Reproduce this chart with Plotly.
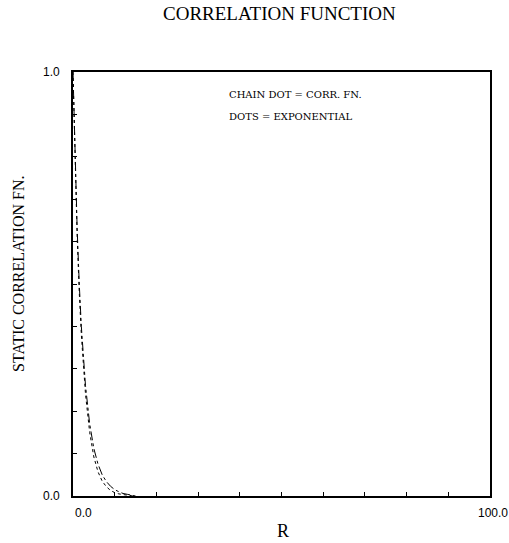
import plotly.graph_objects as go

# Data
r_vals = [0, 0.5, 1, 1.5, 2, 3, 4, 5, 6, 7, 8, 9, 10, 11, 12, 13, 14, 15]
corr_fn = [1.0, 0.79, 0.63, 0.50, 0.40, 0.26, 0.17, 0.112, 0.075, 0.050, 0.034, 0.023, 0.015, 0.010, 0.006, 0.004, 0.002, 0.0]
expo = [1.0, 0.78, 0.61, 0.48, 0.38, 0.24, 0.15, 0.092, 0.057, 0.035, 0.022, 0.013, 0.008, 0.005, 0.003, 0.002, 0.001, 0.0]

x_tick_labels = ["0.0", "100.0"]
y_tick_labels = ["0.0", "1.0"]

serif = "Liberation Serif, DejaVu Serif, serif"
serif_wide = "DejaVu Serif, Liberation Serif, serif"
sans = "Liberation Sans, DejaVu Sans, sans-serif"

W, H = 509, 543
L, R, T, B = 73, 19, 72, 47

fig = go.Figure()
fig.add_trace(go.Scatter(x=r_vals, y=corr_fn, mode="lines",
                         line=dict(color="black", width=1, dash="dashdot"),
                         name="CHAIN DOT = CORR. FN."))
fig.add_trace(go.Scatter(x=r_vals, y=expo, mode="lines",
                         line=dict(color="black", width=1, dash="dot"),
                         name="DOTS = EXPONENTIAL"))

fig.update_layout(
    width=W, height=H,
    margin=dict(l=L, r=R, t=T, b=B),
    paper_bgcolor="white", plot_bgcolor="white",
    showlegend=False,
)
fig.update_xaxes(range=[0, 100], showgrid=False, zeroline=False,
                 showline=True, linecolor="black", linewidth=2, mirror=True,
                 ticks="inside", tickvals=list(range(0, 101, 10)), ticklen=4,
                 tickcolor="black", showticklabels=False)
fig.update_yaxes(range=[0, 1], showgrid=False, zeroline=False,
                 showline=True, linecolor="black", linewidth=2, mirror=True,
                 ticks="inside", tickvals=[i / 10 for i in range(11)], ticklen=4,
                 tickcolor="black", showticklabels=False)

pw, ph = W - L - R, H - T - B


def px(xp):
    return (xp - L) / pw


def py(yp):
    return (H - B - yp) / ph


# titles
fig.add_annotation(x=px(279), y=py(14), xref="paper", yref="paper",
                   text="CORRELATION FUNCTION", showarrow=False,
                   xanchor="center", yanchor="middle",
                   font=dict(family=serif, size=19, color="black"))
fig.add_annotation(x=px(283), y=py(531), xref="paper", yref="paper",
                   text="R", showarrow=False, xanchor="center", yanchor="middle",
                   font=dict(family=serif, size=18, color="black"))
fig.add_annotation(x=px(18), y=py(274), xref="paper", yref="paper",
                   text="STATIC CORRELATION FN.", showarrow=False, textangle=-90,
                   xanchor="center", yanchor="middle",
                   font=dict(family=serif, size=16, color="black"))

# endpoint tick labels
fig.add_annotation(x=0, y=0, xref="x", yref="paper", text=x_tick_labels[0],
                   showarrow=False, xanchor="left", yanchor="top", yshift=-8,
                   font=dict(family=sans, size=12, color="black"))
fig.add_annotation(x=100, y=0, xref="x", yref="paper", text=x_tick_labels[1],
                   showarrow=False, xanchor="center", yanchor="top", yshift=-8, xshift=3,
                   font=dict(family=sans, size=12, color="black"))
fig.add_annotation(x=0, y=0, xref="paper", yref="y", text=y_tick_labels[0],
                   showarrow=False, xanchor="right", yanchor="middle", xshift=-11,
                   font=dict(family=sans, size=12, color="black"))
fig.add_annotation(x=0, y=1, xref="paper", yref="y", text=y_tick_labels[1],
                   showarrow=False, xanchor="right", yanchor="middle", xshift=-11,
                   font=dict(family=sans, size=12, color="black"))

# in-plot key text
fig.add_annotation(x=37, y=0.948, xref="x", yref="y", text="CHAIN DOT = CORR. FN.",
                   showarrow=False, xanchor="left", yanchor="middle",
                   font=dict(family=serif_wide, size=10, color="black"))
fig.add_annotation(x=37, y=0.894, xref="x", yref="y", text="DOTS = EXPONENTIAL",
                   showarrow=False, xanchor="left", yanchor="middle",
                   font=dict(family=serif_wide, size=10, color="black"))

fig.write_html("out.html", config={"displayModeBar": False},
               post_script="document.body.style.margin='0px';")
